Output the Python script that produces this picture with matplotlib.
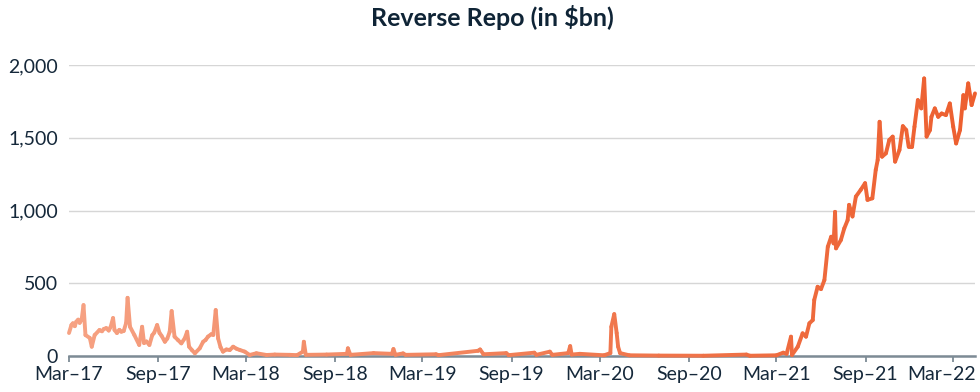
import numpy as np
import pandas as pd
import matplotlib
matplotlib.use("Agg")
import matplotlib.pyplot as plt
import matplotlib.dates as mdates
import matplotlib.transforms as mtransforms
from matplotlib.collections import LineCollection
from matplotlib.colors import LinearSegmentedColormap

# reverse repo balance, $bn
dates = [
    "2017-03-01", "2017-03-06", "2017-03-09", "2017-03-13", "2017-03-16", "2017-03-20",
    "2017-03-23", "2017-03-27", "2017-03-31", "2017-04-04", "2017-04-13", "2017-04-17",
    "2017-04-23", "2017-05-03", "2017-05-08", "2017-05-12", "2017-05-17", "2017-05-22",
    "2017-05-26", "2017-05-31", "2017-06-03", "2017-06-08", "2017-06-13", "2017-06-17",
    "2017-06-22", "2017-06-27", "2017-06-30", "2017-07-05", "2017-07-14", "2017-07-24",
    "2017-07-30", "2017-08-03", "2017-08-08", "2017-08-14", "2017-08-20", "2017-08-24",
    "2017-08-30", "2017-09-04", "2017-09-08", "2017-09-15", "2017-09-20", "2017-09-25",
    "2017-09-29", "2017-10-05", "2017-10-12", "2017-10-19", "2017-10-26", "2017-10-31",
    "2017-11-04", "2017-11-10", "2017-11-16", "2017-11-26", "2017-12-03", "2017-12-08",
    "2017-12-13", "2017-12-20", "2017-12-24", "2017-12-29", "2018-01-03", "2018-01-08",
    "2018-01-13", "2018-01-20", "2018-01-27", "2018-02-03", "2018-02-10", "2018-02-17",
    "2018-02-27", "2018-03-09", "2018-03-23", "2018-04-13", "2018-04-30", "2018-05-31",
    "2018-06-15", "2018-06-27", "2018-06-29", "2018-07-03", "2018-08-15", "2018-09-26",
    "2018-09-28", "2018-10-03", "2018-11-20", "2018-12-28", "2018-12-31", "2019-01-04",
    "2019-01-20", "2019-01-25", "2019-03-29", "2019-04-03", "2019-06-24", "2019-06-28",
    "2019-07-05", "2019-08-21", "2019-08-26", "2019-10-18", "2019-10-22", "2019-11-19",
    "2019-11-24", "2019-12-27", "2019-12-31", "2020-01-03", "2020-01-20", "2020-03-10",
    "2020-03-23", "2020-03-25", "2020-03-31", "2020-04-05", "2020-04-08", "2020-04-12",
    "2020-05-01", "2020-07-01", "2020-10-01", "2020-12-29", "2021-01-05", "2021-03-01",
    "2021-03-15", "2021-03-22", "2021-03-31", "2021-04-02", "2021-04-14", "2021-04-24",
    "2021-05-01", "2021-05-08", "2021-05-15", "2021-05-18", "2021-05-25", "2021-06-01",
    "2021-06-08", "2021-06-15", "2021-06-22", "2021-06-27", "2021-06-30", "2021-07-02",
    "2021-07-12", "2021-07-19", "2021-07-26", "2021-07-29", "2021-08-05", "2021-08-12",
    "2021-08-22", "2021-08-31", "2021-09-05", "2021-09-15", "2021-09-22", "2021-09-26",
    "2021-09-30", "2021-10-05", "2021-10-13", "2021-10-20", "2021-10-27", "2021-11-01",
    "2021-11-10", "2021-11-17", "2021-11-24", "2021-11-29", "2021-12-06", "2021-12-11",
    "2021-12-18", "2021-12-25", "2021-12-31", "2022-01-05", "2022-01-12", "2022-01-15",
    "2022-01-22", "2022-01-29", "2022-02-05", "2022-02-14", "2022-02-22", "2022-03-01",
    "2022-03-07", "2022-03-15", "2022-03-22", "2022-03-25", "2022-04-01", "2022-04-08",
    "2022-04-15",
]
repo_bn = [
    158, 213, 225, 205, 236, 250,
    228, 247, 350, 144, 124, 64,
    144, 179, 170, 186, 192, 175,
    200, 261, 179, 158, 180, 167,
    172, 227, 400, 201, 144, 76,
    201, 89, 100, 76, 144, 160,
    213, 158, 140, 98, 120, 167,
    309, 133, 110, 87, 121, 167,
    64, 40, 19, 53, 98, 110,
    133, 150, 145, 316, 121, 60,
    30, 45, 41, 64, 50, 41,
    30, 7, 19, 7, 10, 8,
    6, 30, 98, 8, 10, 15,
    53, 8, 20, 15, 48, 8,
    18, 8, 12, 6, 36, 45,
    12, 20, 6, 23, 8, 30,
    8, 20, 68, 10, 15, 5,
    20, 201, 288, 158, 64, 20,
    5, 3, 2, 10, 2, 5,
    23, 15, 133, 7, 64, 156,
    133, 225, 247, 385, 476, 460,
    522, 751, 820, 774, 991, 740,
    797, 877, 934, 1039, 959, 1096,
    1142, 1188, 1073, 1084, 1279, 1347,
    1610, 1370, 1393, 1485, 1508, 1336,
    1416, 1580, 1553, 1438, 1438, 1576,
    1759, 1702, 1908, 1508, 1553, 1644,
    1702, 1644, 1667, 1656, 1736, 1576,
    1461, 1553, 1793, 1702, 1874, 1725,
    1805,
]

tick_dates = ["2017-03-01", "2017-09-01", "2018-03-01", "2018-09-01", "2019-03-01",
              "2019-09-01", "2020-03-01", "2020-09-01", "2021-03-01", "2021-09-01",
              "2022-03-01"]
tick_labels = ["Mar–17", "Sep–17", "Mar–18", "Sep–18", "Mar–19", "Sep–19",
               "Mar–20", "Sep–20", "Mar–21", "Sep–21", "Mar–22"]
y_ticks = [0, 500, 1000, 1500, 2000]

plt.rcParams["font.family"] = ["Lato", "DejaVu Sans"]
text_col = "#15283a"

fig = plt.figure(figsize=(9.8, 3.92), dpi=100)
ax = fig.add_axes([0.0704, 0.0918, 0.9245, 0.7423])

x = mdates.date2num(pd.to_datetime(dates))
y = np.array(repo_bn, dtype=float)
pts = np.column_stack([x, y]).reshape(-1, 1, 2)
segs = np.concatenate([pts[:-1], pts[1:]], axis=1)

cmap = LinearSegmentedColormap.from_list("repo", ["#f6a283", "#f17d55", "#ed5f2f"])
lc = LineCollection(segs, cmap=cmap, linewidth=2.8, capstyle="round",
                    joinstyle="round", clip_on=False, zorder=3)
lc.set_array((x[:-1] - x[0]) / (x[-1] - x[0]))
lc.set_clim(0, 1)
ax.add_collection(lc)

ax.set_xlim(mdates.date2num(pd.Timestamp("2017-03-01")),
            mdates.date2num(pd.Timestamp("2022-04-15")))
ax.set_ylim(0, 2000)

ax.set_yticks(y_ticks)
ax.set_yticklabels([f"{v:,}" for v in y_ticks])
ax.set_xticks(mdates.date2num(pd.to_datetime(tick_dates)))
ax.set_xticklabels(tick_labels)

ax.grid(axis="y", color="#d6d6d6", linewidth=1.0)
ax.set_axisbelow(True)
for side in ["top", "right", "left"]:
    ax.spines[side].set_visible(False)
ax.spines["bottom"].set_color("#7d8b95")
ax.spines["bottom"].set_linewidth(1.8)
ax.spines["bottom"].set_zorder(2)

ax.tick_params(axis="y", length=0, pad=8, labelsize=14, labelcolor=text_col)
ax.tick_params(axis="x", length=4, width=1.3, color="#7d8b95", pad=3,
               labelsize=14, labelcolor=text_col)

# last label is pushed left in the reference so it fits inside the figure
last = ax.get_xticklabels()[-1]
last.set_ha("right")
last.set_transform(last.get_transform() +
                   mtransforms.ScaledTranslation(23 / 100, 0, fig.dpi_scale_trans))

fig.text(0.502, 0.955, "Reverse Repo (in $bn)", ha="center", va="center",
         fontsize=18, fontweight="bold", color="#0f2436")

fig.savefig("out.png", dpi=100)
